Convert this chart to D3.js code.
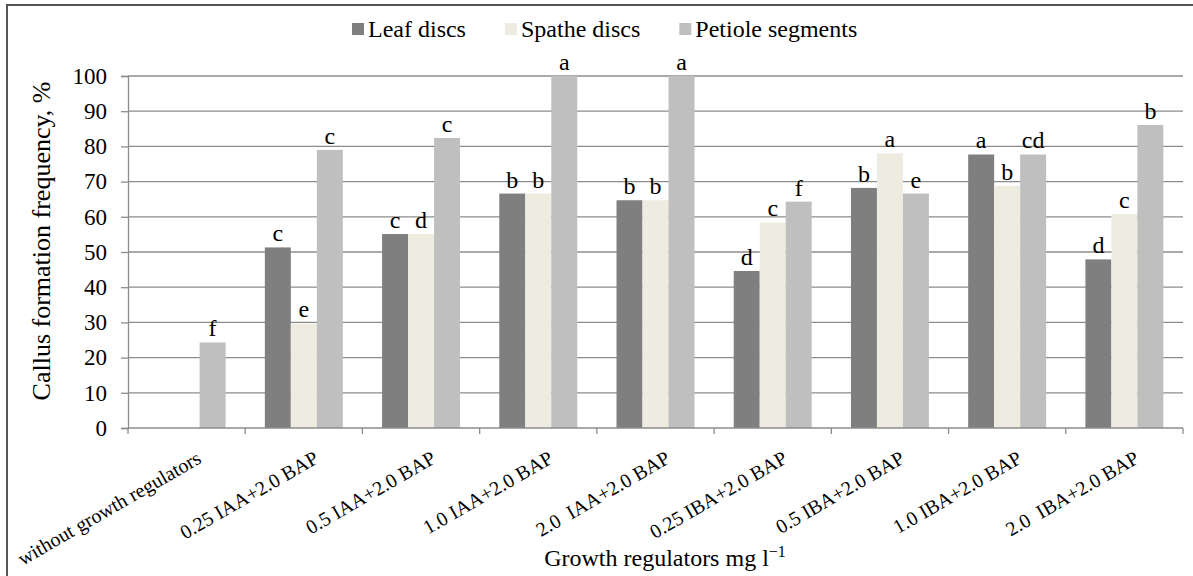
<!DOCTYPE html>
<html>
<head>
<meta charset="utf-8">
<script src="https://cdn.jsdelivr.net/npm/d3@7/dist/d3.min.js"></script>
<style>
  html, body { margin: 0; padding: 0; background: #fff; }
</style>
</head>
<body>
<svg id="chart" width="1193" height="576"></svg>
<script>
// categories and series values
const categories = [
  'without growth regulators',
  '0.25 IAA+2.0 BAP',
  '0.5 IAA+2.0 BAP',
  '1.0 IAA+2.0 BAP',
  '2.0  IAA+2.0 BAP',
  '0.25 IBA+2.0 BAP',
  '0.5 IBA+2.0 BAP',
  '1.0 IBA+2.0 BAP',
  '2.0  IBA+2.0 BAP'
];
const seriesNames = ['Leaf discs', 'Spathe discs', 'Petiole segments'];
const leafDiscs = [0, 51.3, 55.1, 66.6, 64.7, 44.6, 68.2, 77.7, 47.9];
const spatheDiscs = [0, 29.7, 55.1, 66.6, 64.7, 58.4, 78.0, 68.8, 60.8];
const petioleSegments = [24.3, 79.0, 82.4, 100, 100, 64.3, 66.6, 77.7, 86.1];
const leafLetters = ['', 'c', 'c', 'b', 'b', 'd', 'b', 'a', 'd'];
const spatheLetters = ['', 'e', 'd', 'b', 'b', 'c', 'a', 'b', 'c'];
const petioleLetters = ['f', 'c', 'c', 'a', 'a', 'f', 'e', 'cd', 'b'];
const yTicks = [0, 10, 20, 30, 40, 50, 60, 70, 80, 90, 100];
const colors = ['#7f7f7f', '#eeece1', '#bfbfbf'];

const seriesValues = [leafDiscs, spatheDiscs, petioleSegments];
const seriesLetters = [leafLetters, spatheLetters, petioleLetters];
const FONT = "'Liberation Serif'";

const svg = d3.select('#chart');
const plot = { left: 128, right: 1183, top: 76, bottom: 428 };

// helper: serif text of a given size
function serif(sel, size) {
  return sel.style('font-family', FONT).style('font-size', size + 'px').style('fill', '#000');
}

// flatten into one record per bar
const bars = [];
categories.forEach((cat, i) => {
  seriesNames.forEach((name, s) => {
    bars.push({ cat, name, value: seriesValues[s][i], letter: seriesLetters[s][i], color: colors[s] });
  });
});

// outer frame (only top and left edges are inside the picture)
svg.append('rect')
  .attr('x', 7).attr('y', 5)
  .attr('width', 1220).attr('height', 620)
  .attr('fill', 'none')
  .attr('stroke', '#555')
  .attr('stroke-width', 2);

const x = d3.scaleBand()
  .domain(categories)
  .range([plot.left, plot.right]);

const xInner = d3.scaleBand()
  .domain(seriesNames)
  .range([0, x.bandwidth()])
  .paddingOuter(0.755);

const y = d3.scaleLinear()
  .domain([0, 100])
  .range([plot.bottom, plot.top]);

// gridlines
svg.append('g')
  .selectAll('line')
  .data(yTicks.filter(d => d > 0))
  .enter()
  .append('line')
  .attr('x1', plot.left).attr('x2', plot.right)
  .attr('y1', d => y(d)).attr('y2', d => y(d))
  .attr('stroke', '#8c8c8c')
  .attr('stroke-width', 1.3);

// bars
svg.append('g')
  .selectAll('rect')
  .data(bars.filter(b => b.value > 0))
  .enter()
  .append('rect')
  .attr('x', d => x(d.cat) + xInner(d.name))
  .attr('width', xInner.bandwidth())
  .attr('y', d => y(d.value))
  .attr('height', d => y(0) - y(d.value))
  .attr('fill', d => d.color);

// significance letters
serif(svg.append('g')
  .selectAll('text')
  .data(bars.filter(b => b.letter !== ''))
  .enter()
  .append('text')
  .attr('x', d => x(d.cat) + xInner(d.name) + xInner.bandwidth() / 2)
  .attr('y', d => y(d.value) - 6)
  .attr('text-anchor', 'middle')
  .text(d => d.letter), 24);

// y axis
const yAxis = svg.append('g')
  .attr('transform', `translate(${plot.left},0)`)
  .call(d3.axisLeft(y).tickValues(yTicks).tickSize(7).tickPadding(14));
yAxis.select('.domain').attr('stroke', '#8c8c8c').attr('stroke-width', 1.3);
yAxis.selectAll('.tick line').attr('stroke', '#8c8c8c').attr('stroke-width', 1.3);
serif(yAxis.selectAll('.tick text'), 23);

// x axis line and ticks at category boundaries
const xAxis = svg.append('g');
xAxis.append('line')
  .attr('x1', plot.left).attr('x2', plot.right)
  .attr('y1', plot.bottom).attr('y2', plot.bottom)
  .attr('stroke', '#8c8c8c').attr('stroke-width', 1.3);
const boundaries = categories.map(c => x(c)).concat([plot.right]);
xAxis.selectAll('.xtick')
  .data(boundaries)
  .enter()
  .append('line')
  .attr('x1', d => d).attr('x2', d => d)
  .attr('y1', plot.bottom).attr('y2', plot.bottom + 6)
  .attr('stroke', '#8c8c8c').attr('stroke-width', 1.3);

serif(xAxis.selectAll('.xlabel')
  .data(categories)
  .enter()
  .append('text')
  .attr('transform', d => `translate(${x(d) + x.bandwidth() / 2 + 16},462) rotate(-30)`)
  .attr('text-anchor', 'end')
  .style('white-space', 'pre')
  .text(d => d), 20);

// axis titles
serif(svg.append('text')
  .attr('transform', 'translate(50,241) rotate(-90)')
  .attr('text-anchor', 'middle')
  .text('Callus formation frequency, %'), 26);

const xTitle = serif(svg.append('text')
  .attr('x', 665).attr('y', 566)
  .attr('text-anchor', 'middle'), 24);
xTitle.append('tspan').text('Growth regulators mg l');
xTitle.append('tspan').attr('dy', -9).style('font-size', '16px').text('\u22121');

// legend
const legend = svg.append('g');
let lx = 352;
seriesNames.forEach((name, s) => {
  legend.append('rect')
    .attr('x', lx).attr('y', 23)
    .attr('width', 12).attr('height', 12)
    .attr('fill', colors[s]);
  const t = serif(legend.append('text')
    .attr('x', lx + 16).attr('y', 37)
    .text(name), 24);
  lx += 16 + t.node().getComputedTextLength() + 39;
});
</script>
</body>
</html>
